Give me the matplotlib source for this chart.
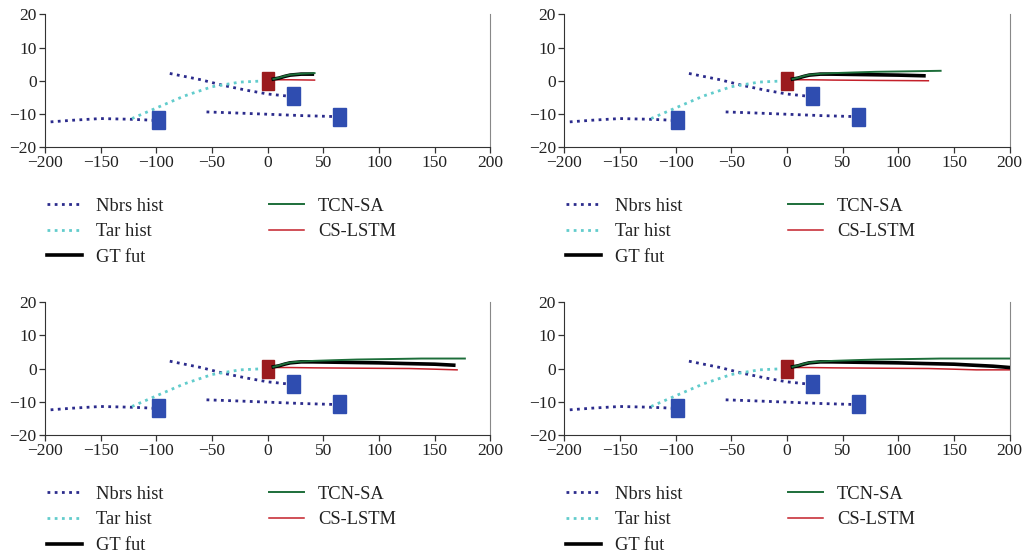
import numpy as np
import matplotlib
matplotlib.use('Agg')
import matplotlib.pyplot as plt
from matplotlib.patches import Rectangle

plt.rcParams['font.family'] = ['Liberation Serif', 'DejaVu Serif']
plt.rcParams['font.size'] = 12.5

# neighbour histories (one list per neighbour)
nbr1_x = [-195, -175, -150, -125, -110, -100]
nbr1_y = [-12.4, -11.9, -11.4, -11.6, -11.8, -12.0]
nbr2_x = [-88, -60, -40, -20, 0, 20]
nbr2_y = [2.2, 0.3, -1.4, -2.8, -4.0, -4.7]
nbr3_x = [-55, -30, 0, 30, 60]
nbr3_y = [-9.4, -9.7, -10.1, -10.5, -10.8]

# target history
tar_x = [-122, -100, -75, -50, -25, 0]
tar_y = [-11.4, -8.2, -4.6, -1.8, -0.4, 0.0]

# vehicle centres
tar_veh = (0, 0)
nbr_veh_x = [-98, 23, 64]
nbr_veh_y = [-11.9, -4.7, -10.8]

# future trajectories
gt_x = [5, 10, 15, 20, 30, 40, 60, 80, 100, 123, 150, 167, 185, 200, 210]
gt_y = [0.5, 0.8, 1.3, 1.7, 2.0, 2.0, 1.9, 1.8, 1.7, 1.5, 1.3, 1.0, 0.7, 0.3, 0.1]
tcn_x = [5, 10, 15, 20, 30, 42, 60, 80, 100, 120, 138, 160, 177, 200, 215]
tcn_y = [0.5, 0.9, 1.4, 1.8, 2.1, 2.3, 2.5, 2.7, 2.8, 2.9, 3.0, 3.0, 3.0, 3.0, 3.0]
lstm_x = [5, 20, 42, 80, 127, 150, 170, 200, 215]
lstm_y = [0.3, 0.3, 0.2, 0.1, 0.0, -0.2, -0.4, -0.4, -0.4]

# prediction horizon shown in each panel
gt_end = [40, 123, 167, 210]
tcn_end = [42, 138, 177, 215]
lstm_end = [42, 127, 170, 215]

c_nbr = '#2b2b8c'
c_tar = '#62cccc'
c_tcn = '#1d6e3a'
c_lstm = '#c4202a'
c_tv = '#9b1b1e'
c_nv = '#2f4db0'

fig = plt.figure(figsize=(10.24, 5.55), dpi=100)
pos = [(0.044, 0.735, 0.435, 0.239),
       (0.551, 0.735, 0.435, 0.239),
       (0.044, 0.216, 0.435, 0.240),
       (0.551, 0.216, 0.435, 0.240)]

for k in range(4):
    ax = fig.add_axes(pos[k])
    ax.plot(nbr1_x, nbr1_y, color=c_nbr, lw=2.0, ls=(0, (1, 1.6)), label='Nbrs hist')
    ax.plot(nbr2_x, nbr2_y, color=c_nbr, lw=2.0, ls=(0, (1, 1.6)))
    ax.plot(nbr3_x, nbr3_y, color=c_nbr, lw=2.0, ls=(0, (1, 1.6)))
    ax.plot(tar_x, tar_y, color=c_tar, lw=2.0, ls=(0, (1, 1.6)), label='Tar hist')

    gx = np.array(gt_x); gy = np.array(gt_y)
    m = gx <= gt_end[k]
    ax.plot(gx[m], gy[m], color='black', lw=2.6, label='GT fut', zorder=4)
    tx = np.array(tcn_x); ty = np.array(tcn_y)
    m = tx <= tcn_end[k]
    ax.plot(tx[m], ty[m], color=c_tcn, lw=1.4, label='TCN-SA', zorder=5)
    lx = np.array(lstm_x); ly = np.array(lstm_y)
    m = lx <= lstm_end[k]
    ax.plot(lx[m], ly[m], color=c_lstm, lw=1.1, label='CS-LSTM', zorder=3)

    ax.add_patch(Rectangle((tar_veh[0] - 5.2, tar_veh[1] - 2.7), 10.4, 5.4,
                           facecolor=c_tv, edgecolor=c_tv, zorder=2))
    for vx, vy in zip(nbr_veh_x, nbr_veh_y):
        ax.add_patch(Rectangle((vx - 5.8, vy - 2.7), 11.6, 5.4,
                               facecolor=c_nv, edgecolor=c_nv, zorder=2))

    ax.set_xlim(-200, 200)
    ax.set_ylim(-20, 20)
    ax.set_xticks(np.arange(-200, 201, 50))
    ax.set_yticks(np.arange(-20, 21, 10))
    ax.spines['top'].set_visible(False)
    ax.spines['right'].set_color('#888888')
    for s in ['left', 'bottom']:
        ax.spines[s].set_color('#333333')
    ax.tick_params(direction='out', length=4, width=0.9, colors='#333333',
                   labelsize=12.5, pad=2)
    for lab in ax.get_xticklabels() + ax.get_yticklabels():
        lab.set_color('#222222')

    ax.legend(loc='upper left', bbox_to_anchor=(-0.012, -0.325), ncol=2,
              frameon=False, handlelength=1.9, handletextpad=0.75,
              columnspacing=5.7, labelspacing=0.47, borderaxespad=0,
              fontsize=13.3, labelcolor='#222222')

fig.savefig('out.png', dpi=100)
